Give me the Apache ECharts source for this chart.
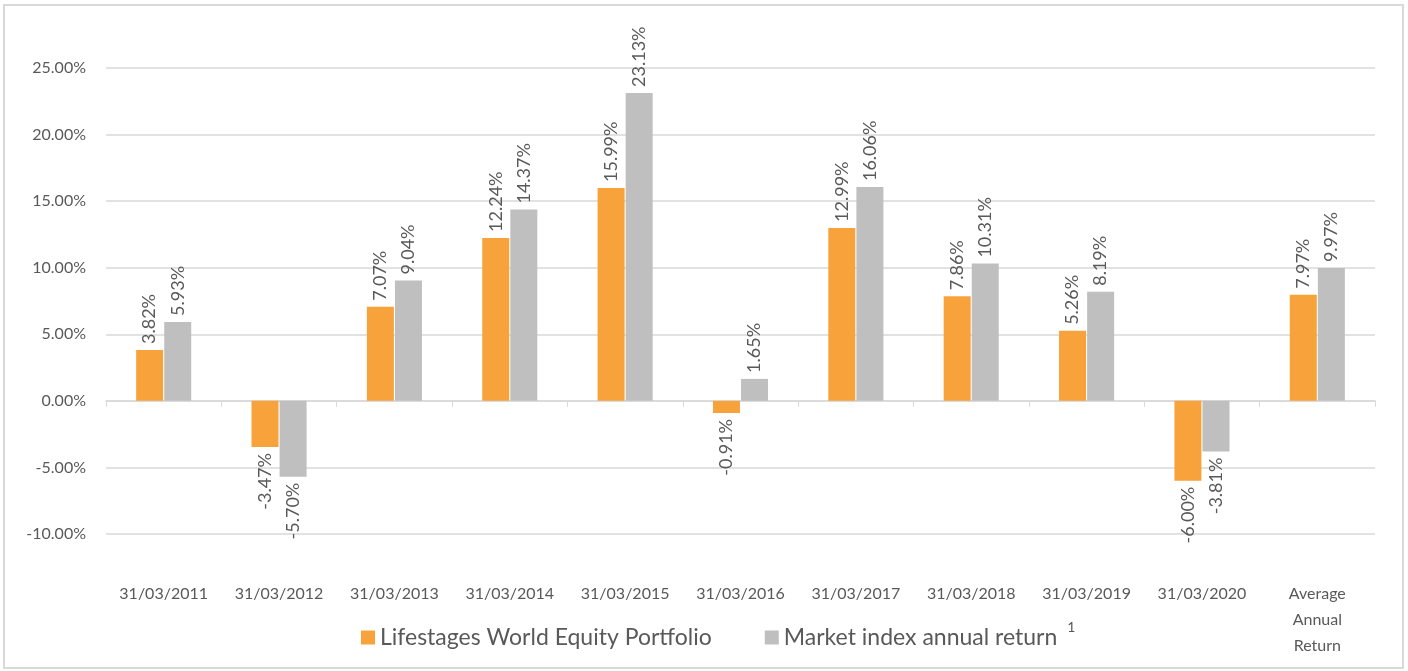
<!DOCTYPE html>
<html><head><meta charset="utf-8">
<script src="https://cdn.jsdelivr.net/npm/echarts@6/dist/echarts.min.js"></script>
<style>html,body{margin:0;padding:0;background:#fff}#c{width:1408px;height:671px}</style>
</head><body><div id="c"></div>
<script>
const categories = ['31/03/2011','31/03/2012','31/03/2013','31/03/2014','31/03/2015','31/03/2016','31/03/2017','31/03/2018','31/03/2019','31/03/2020','Average\nAnnual\nReturn'];
const portfolio = [3.82,-3.47,7.07,12.24,15.99,-0.91,12.99,7.86,5.26,-6.00,7.97];
const marketIndex = [5.93,-5.70,9.04,14.37,23.13,1.65,16.06,10.31,8.19,-3.81,9.97];
const seriesNames = ['Lifestages World Equity Portfolio','Market index annual return'];
const yTicks = {min:-10,max:25,interval:5};

const FONT = 'Lato, "Open Sans", sans-serif';
const TXT = '#595959';
function withLabels(arr){
  return arr.map(v => ({
    value: v,
    label: {
      show: true,
      position: v >= 0 ? 'top' : 'bottom',
      rotate: 90,
      align: v >= 0 ? 'left' : 'right',
      verticalAlign: 'middle',
      distance: 6,
      formatter: p => p.value.toFixed(2) + '%',
      color: TXT, fontSize: 18, fontFamily: FONT
    }
  }));
}
const chart = echarts.init(document.getElementById('c'));
chart.setOption({
  animation: false,
  graphic: [{type:'rect', shape:{x:4,y:5,width:1399,height:663}, style:{fill:'none', stroke:'#D9D9D9', lineWidth:2}, z:-1}],
  grid: {left:106, right:33, top:68, bottom:137},
  legend: {
    bottom: 17, left: 356, itemGap: 53, itemWidth: 14, itemHeight: 14, icon: 'rect',
    textStyle: {color: TXT, fontSize: 23, fontFamily: FONT, rich:{sup:{fontSize:14, color:TXT, verticalAlign:'top', padding:[0,0,20,10]}}},
    formatter: n => n === seriesNames[1] ? n + '{sup|1}' : n,
    data: seriesNames
  },
  xAxis: [
    {type:'category', data: categories, position:'bottom',
     axisLine:{show:false, onZero:false}, axisTick:{show:false},
     axisLabel:{color:TXT, fontSize:16, fontFamily:FONT, margin:47, lineHeight:26, interval:0}},
    {type:'category', data: categories, position:'bottom',
     axisLine:{show:true, onZero:true, lineStyle:{color:'#D9D9D9', width:1.5}},
     axisTick:{show:true, length:6, lineStyle:{color:'#D9D9D9'}},
     axisLabel:{show:false}}
  ],
  yAxis: {type:'value', min:yTicks.min, max:yTicks.max, interval:yTicks.interval,
    axisLine:{show:false}, axisTick:{show:false},
    splitLine:{lineStyle:{color:'#D9D9D9', width:1.5}},
    axisLabel:{color:TXT, fontSize:16, fontFamily:FONT, margin:20, formatter: v => v.toFixed(2) + '%'}},
  series: [
    {name: seriesNames[0], type:'bar', xAxisIndex:0, data: withLabels(portfolio), barWidth:27, barGap:'4%', itemStyle:{color:'#F7A23B'}},
    {name: seriesNames[1], type:'bar', xAxisIndex:0, data: withLabels(marketIndex), barWidth:27, barGap:'4%', itemStyle:{color:'#BFBFBF'}}
  ]
});
</script></body></html>
